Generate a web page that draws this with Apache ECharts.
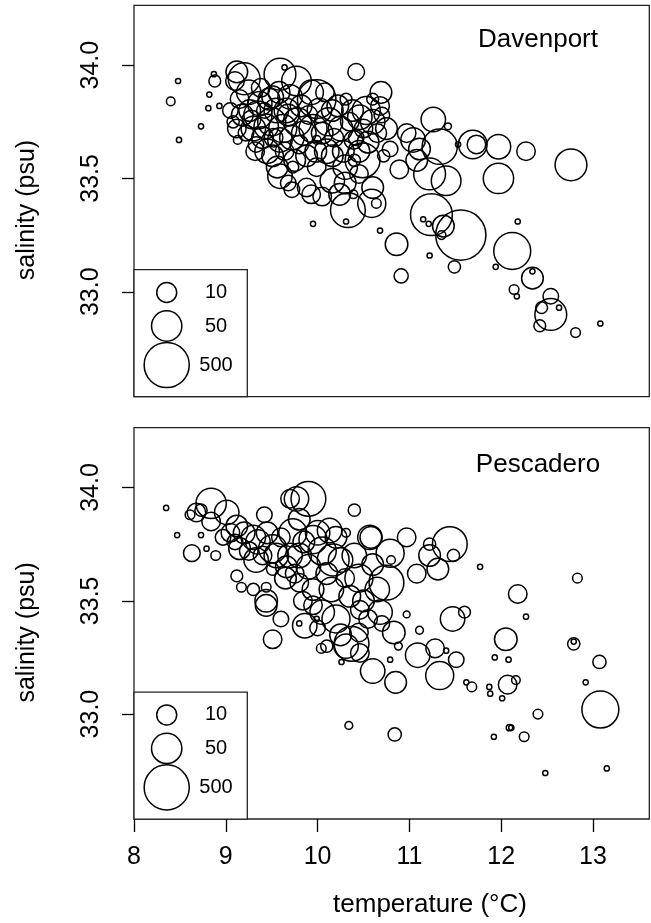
<!DOCTYPE html>
<html><head><meta charset="utf-8">
<script src="https://cdn.jsdelivr.net/npm/echarts@6/dist/echarts.min.js"></script>
<style>html,body{margin:0;padding:0;background:#fff}#c{width:651px;height:923px}</style>
</head><body><div id="c"></div>
<script>
// [temperature (°C), salinity (psu), abundance]
const davenport = [
[8.48,33.93,1],[8.40,33.84,1.7],[8.49,33.67,1],[8.73,33.73,1],[8.82,33.87,1],[8.81,33.81,1],[8.93,33.82,1],
[8.88,33.93,2.8],[8.87,33.96,1],[9.12,33.97,13],[9.10,33.93,8],[9.20,33.94,63],[9.59,33.96,63],[9.64,33.99,1],
[9.77,33.93,45],[9.99,33.85,180],[10.16,33.80,13],[9.12,33.72,8],[9.13,33.67,1.7],[9.26,33.80,13],[9.37,33.83,20],
[9.51,33.86,13],[9.44,33.73,20],[9.66,33.80,20],[9.59,33.67,20],[9.33,33.65,5],[9.51,33.60,13],[9.80,33.65,8],
[9.99,33.67,1.7],[9.59,33.51,20],[9.73,33.55,2.8],[9.99,33.55,8],[10.16,33.60,13],[10.16,33.49,20],[9.88,33.46,8],
[10.31,33.85,2.8],[10.42,33.97,6],[10.69,33.88,13],[10.53,33.80,35],[10.46,33.77,20],[10.60,33.85,2.8],[10.68,33.82,8],
[11.04,33.67,20],[11.26,33.76,20],[11.42,33.73,1.3],[11.33,33.64,107],[11.69,33.65,38],[11.73,33.65,8],[11.97,33.64,20],
[11.53,33.65,1],[12.27,33.62,8],[12.76,33.56,63],[11.97,33.50,50],[11.11,33.63,13],[10.97,33.70,8],[10.79,33.63,5],
[10.89,33.54,8],[11.22,33.52,63],[11.40,33.49,45],[11.08,33.58,13],[10.49,33.58,100],[10.39,33.67,8],[10.60,33.46,13],
[9.95,33.30,1],[10.33,33.36,100],[10.31,33.31,1],[9.68,33.48,5],[9.93,33.43,8],[10.24,33.43,13],[10.59,33.39,35],
[10.64,33.39,2],[10.68,33.27,1],[10.39,33.43,1.7],[10.86,33.21,15],[10.91,33.07,4],[11.22,33.16,1],[11.24,33.34,300],
[11.15,33.32,1],[11.21,33.30,1],[11.37,33.29,13],[11.35,33.25,1.7],[11.56,33.25,1100],[11.49,33.11,3],[12.18,33.31,1],
[12.12,33.18,140],[11.94,33.11,1],[12.34,33.06,13],[12.34,33.09,1],[12.14,33.01,2],[12.17,32.98,1],[12.54,32.98,5],
[12.54,32.90,63],[12.44,32.93,2.8],[12.63,32.93,1],[12.42,32.85,2.8],[12.81,32.82,2],[13.08,32.86,1],
[9.05,33.80,5],[9.08,33.75,3],[9.15,33.85,8],[9.18,33.78,13],[9.22,33.70,5],[9.25,33.88,20],[9.28,33.76,8],[9.30,33.72,20],
[9.32,33.62,8],[9.35,33.78,35],[9.38,33.90,8],[9.40,33.68,13],[9.42,33.80,5],[9.45,33.62,20],[9.47,33.85,13],[9.50,33.75,35],
[9.52,33.68,8],[9.55,33.80,20],[9.56,33.55,13],[9.58,33.88,13],[9.62,33.72,35],[9.64,33.62,8],[9.68,33.78,13],[9.70,33.86,20],
[9.72,33.68,20],[9.75,33.58,13],[9.78,33.75,35],[9.82,33.82,13],[9.85,33.70,20],[9.88,33.60,13],[9.90,33.78,8],[9.93,33.88,20],
[9.95,33.72,35],[9.98,33.62,13],[10.02,33.80,20],[10.05,33.70,13],[10.08,33.88,8],[10.10,33.62,20],[10.12,33.75,35],[10.18,33.68,8],
[10.22,33.82,13],[10.25,33.72,20],[10.28,33.62,13],[10.30,33.55,20],[10.35,33.75,8],[10.38,33.80,13],[10.42,33.68,5],[10.45,33.62,13],
[10.50,33.72,8],[10.55,33.66,13],[10.60,33.75,20],[10.65,33.70,8],[10.70,33.78,5],[10.75,33.72,13],[10.72,33.60,3],[10.30,33.48,13],
[10.05,33.42,8],[9.72,33.45,5],[10.45,33.52,8],[10.40,33.58,3]
];
const pescadero = [
[8.35,33.91,1],[8.47,33.79,1],[8.63,33.71,6],[8.61,33.88,2],[8.68,33.89,8],[8.73,33.90,3],[8.84,33.93,50],[8.73,33.79,1],
[8.79,33.73,1],[8.89,33.70,2],[9.01,33.89,20],[8.84,33.85,8],[8.97,33.78,5],[9.12,33.83,13],[9.42,33.88,5],[9.30,33.78,20],
[9.15,33.73,13],[9.12,33.61,2.8],[9.17,33.56,2],[9.44,33.56,2],[9.44,33.50,15],[9.51,33.64,3],[9.77,33.95,20],[9.70,33.95,8],
[9.90,33.95,100],[9.80,33.86,13],[9.73,33.80,35],[9.95,33.77,35],[9.51,33.73,35],[9.33,33.68,20],[9.66,33.65,13],[9.80,33.70,20],
[10.13,33.81,20],[10.17,33.68,63],[9.80,33.58,8],[9.84,33.50,8],[10.40,33.90,3],[10.57,33.78,20],[10.58,33.78,13],[10.97,33.78,8],
[10.79,33.71,35],[11.22,33.75,3],[11.44,33.75,100],[11.48,33.70,3],[11.22,33.70,13],[11.08,33.62,8],[11.31,33.64,13],[10.80,33.68,1.7],
[10.75,33.58,100],[11.77,33.65,1],[12.18,33.53,8],[12.83,33.60,2],[10.31,33.80,1.7],[9.51,33.33,8],[9.44,33.48,13],[10.04,33.29,2],
[9.86,33.39,20],[9.80,33.40,1],[9.99,33.42,1],[10.31,33.30,20],[10.26,33.23,1],[12.27,33.43,1],[12.05,33.33,15],[11.93,33.25,1],
[12.08,33.24,1],[12.79,33.31,3],[12.79,33.32,1],[13.07,33.23,3.5],[12.92,33.14,1],[13.08,33.02,140],[12.07,33.13,8],[12.16,33.15,1.7],
[11.87,33.12,1],[11.88,33.09,1],[12.01,33.07,1],[12.40,33.00,2],[12.09,32.94,1.2],[12.11,32.94,1],[11.92,32.90,1],[12.25,32.90,2],
[12.48,32.74,1],[13.15,32.76,1],[10.34,32.95,1.5],[10.84,32.91,3.5],[11.47,33.42,20],[11.60,33.45,2.8],[11.33,33.17,35],[11.51,33.24,5],
[11.62,33.14,1],[11.68,33.12,2],[11.09,33.26,20],[11.28,33.29,8],[11.40,33.28,1],[10.85,33.14,13],[10.60,33.19,20],[10.46,33.27,8],
[10.37,33.31,100],[10.79,33.24,1],[10.83,33.36,15],[10.88,33.30,1.5],[11.11,33.37,1.5],[10.97,33.44,1.3],[10.68,33.45,20],[10.46,33.46,8],
[9.05,33.80,8],[9.10,33.76,5],[9.20,33.80,13],[9.25,33.72,8],[9.35,33.76,20],[9.40,33.70,8],[9.45,33.80,13],[9.55,33.70,20],
[9.60,33.78,8],[9.65,33.60,13],[9.70,33.70,20],[9.75,33.62,8],[9.85,33.76,13],[9.90,33.65,20],[9.95,33.55,13],[10.00,33.80,20],
[10.05,33.72,35],[10.10,33.62,13],[10.15,33.55,20],[10.20,33.78,13],[10.25,33.68,20],[10.30,33.60,8],[10.35,33.52,13],[10.40,33.70,20],
[10.45,33.60,35],[10.50,33.50,13],[10.55,33.42,8],[10.60,33.66,13],[10.65,33.55,20],[10.70,33.40,5],[10.20,33.42,35],[10.05,33.45,20],
[9.95,33.48,8],[10.00,33.38,5],[10.25,33.35,13],[10.45,33.36,8],[10.10,33.30,3],[9.60,33.42,5],[9.30,33.55,3]
];
const siteNames = ['Davenport', 'Pescadero'];
const legendValues = [10, 50, 500];
const xTicks = [8, 9, 10, 11, 12, 13];
const yTicks = [33.0, 33.5, 34.0];
const xRange = [8, 13.613];
const yRange = [32.537, 34.264];

const FONT = '"Liberation Sans", Arial, Helvetica, sans-serif';
// circle diameter (px) for abundance n
function diam(n) { return 2 * (2.6 + 3.21 * Math.log(n)); }

const chart = echarts.init(document.getElementById('c'), null, {renderer: 'canvas'});

const grids = [
  {left: 134, top: 5.3, width: 515.3, height: 391.4},
  {left: 134, top: 427.7, width: 515.3, height: 391.3}
];
grids.forEach(g => { g.show = true; g.borderColor = '#222'; g.borderWidth = 1.3; g.backgroundColor = 'transparent'; g.containLabel = false; });

function xAxis(i, showLabels) {
  return {
    type: 'value', gridIndex: i, min: xRange[0], max: xRange[1],
    axisLine: {show: false}, splitLine: {show: false},
    axisTick: {show: showLabels, length: 13, lineStyle: {color: '#000', width: 1.3}, customValues: xTicks},
    axisLabel: {show: showLabels, customValues: xTicks, fontSize: 25, color: '#000', fontFamily: FONT, margin: 26,
      formatter: v => String(v)}
  };
}
function yAxis(i) {
  return {
    type: 'value', gridIndex: i, min: yRange[0], max: yRange[1],
    axisLine: {show: false}, splitLine: {show: false},
    axisTick: {show: true, length: 12, lineStyle: {color: '#000', width: 1.3}, customValues: yTicks},
    axisLabel: {show: true, customValues: yTicks, rotate: 90, fontSize: 25, color: '#000', fontFamily: FONT, margin: 30,
      formatter: v => v.toFixed(1)}
  };
}

const sites = [davenport, pescadero];
const series = sites.map((d, i) => ({
  type: 'scatter', xAxisIndex: i, yAxisIndex: i, silent: true,
  data: d.map(p => [p[0], p[1], p[2]]),
  symbol: 'circle',
  symbolSize: v => diam(v[2]),
  itemStyle: {color: 'rgba(0,0,0,0)', borderColor: '#000', borderWidth: 1.5, opacity: 1},
  emphasis: {disabled: true}
}));

const graphic = [];
const panelOffsets = [0, 422.4];
panelOffsets.forEach((off, i) => {
  graphic.push({type: 'rect', shape: {x: 134, y: 269.7 + off, width: 113.3, height: 127}, z: 100,
    style: {fill: '#fff', stroke: '#222', lineWidth: 1.3}});
  const cy = [292.5, 326, 365];
  legendValues.forEach((v, k) => {
    graphic.push({type: 'circle', shape: {cx: 166.7, cy: cy[k] + off, r: diam(v) / 2}, z: 101,
      style: {fill: 'none', stroke: '#000', lineWidth: 1.5}});
    graphic.push({type: 'text', x: 216, y: cy[k] + off, z: 101,
      style: {text: String(v), fontSize: 20, fontFamily: FONT, fill: '#000', align: 'center', verticalAlign: 'middle'}});
  });
  graphic.push({type: 'text', x: 538, y: [40, 465][i], z: 101,
    style: {text: siteNames[i], fontSize: 26, fontFamily: FONT, fill: '#000', align: 'center', verticalAlign: 'middle'}});
  graphic.push({type: 'text', x: 27, y: 210 + off, rotation: Math.PI / 2, z: 101,
    style: {text: 'salinity (psu)', fontSize: 25, fontFamily: FONT, fill: '#000', align: 'center', verticalAlign: 'middle'}});
});
graphic.push({type: 'text', x: 430, y: 905, z: 101,
  style: {text: 'temperature (°C)', fontSize: 26, fontFamily: FONT, fill: '#000', align: 'center', verticalAlign: 'middle'}});

chart.setOption({
  animation: false,
  backgroundColor: '#fff',
  grid: grids,
  xAxis: [xAxis(0, false), xAxis(1, true)],
  yAxis: [yAxis(0), yAxis(1)],
  series: series,
  graphic: graphic
});
</script></body></html>
